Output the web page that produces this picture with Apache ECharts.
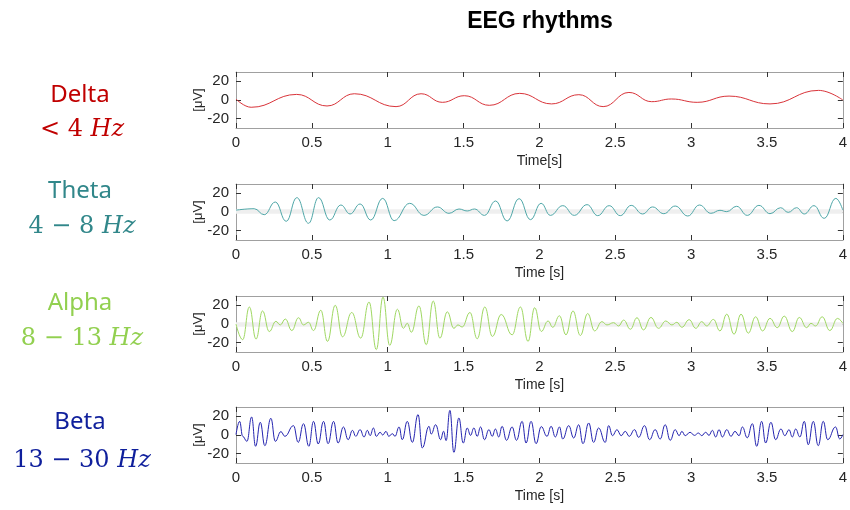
<!DOCTYPE html>
<html>
<head>
<meta charset="utf-8">
<script src="https://cdn.jsdelivr.net/npm/echarts@6/dist/echarts.min.js"></script>
<style>html,body{margin:0;padding:0;background:#fff}#c{width:850px;height:510px}</style>
</head>
<body>
<div id="c"></div>
<script>
// ---------- data (extrema: time [s], amplitude [uV]) ----------
const deltaT = [0, 0.10, 0.40, 0.60, 0.78, 1.055, 1.22, 1.36, 1.505, 1.67, 1.87, 2.08, 2.26, 2.42, 2.59, 2.74, 2.87, 3.04, 3.25, 3.52, 3.84, 4.0];
const deltaV = [1, -7.8, 6.0, -6.4, 6.7, -7.1, 6.7, -2.5, 4.6, -5.7, 7.1, -4.2, 5.7, -7.1, 8.1, -1.8, 1.1, -2.5, 4.2, -4.2, 10.3, 0];

const thetaT = [0, 0.12, 0.186, 0.259, 0.331, 0.401, 0.478, 0.544, 0.618, 0.691, 0.752, 0.818, 0.888, 0.967, 1.042, 1.145, 1.239, 1.327, 1.404, 1.47, 1.524, 1.572, 1.638, 1.711, 1.787, 1.866, 1.941, 2.011, 2.072, 2.154, 2.23, 2.314, 2.384, 2.46, 2.533, 2.605, 2.68, 2.746, 2.82, 2.895, 2.978, 3.055, 3.13, 3.19, 3.235, 3.3, 3.37, 3.447, 3.52, 3.59, 3.64, 3.695, 3.746, 3.81, 3.877, 3.954, 4.0];
const thetaV = [2, 3.5, -2.9, 10.7, -10, 15.4, -12.1, 15.4, -8.6, 7.5, -2.1, 8.6, -8.6, 14.6, -9.3, 9.3, -3.6, 5.4, -1.4, 3.2, 1.1, 3.2, -3.6, 11.8, -9.6, 14.3, -8.2, 9.3, -3.6, 6.8, -3.6, 7.9, -3.9, 6.8, -3.9, 7.1, -2.1, 5.4, -1.8, 6.4, -4.3, 7.5, -1.4, 1.8, 0.4, 6.1, -3.6, 7.1, -1.8, 4.6, -0.4, 4.6, -2.1, 6.8, -6.8, 14.6, 2];

const alphaT = [0, 0.044, 0.088, 0.132, 0.175, 0.219, 0.263, 0.292, 0.325, 0.368, 0.412, 0.445, 0.478, 0.511, 0.559, 0.603, 0.654, 0.702, 0.763, 0.822, 0.877, 0.925, 0.969, 1.013, 1.064, 1.103, 1.129, 1.156, 1.206, 1.254, 1.3, 1.344, 1.393, 1.436, 1.463, 1.491, 1.542, 1.59, 1.64, 1.69, 1.748, 1.82, 1.875, 1.925, 1.969, 2.012, 2.057, 2.088, 2.132, 2.175, 2.221, 2.27, 2.318, 2.364, 2.412, 2.445, 2.489, 2.522, 2.555, 2.6, 2.643, 2.686, 2.735, 2.785, 2.833, 2.873, 2.906, 2.939, 2.987, 3.031, 3.07, 3.103, 3.147, 3.19, 3.235, 3.283, 3.329, 3.377, 3.425, 3.471, 3.52, 3.568, 3.614, 3.667, 3.713, 3.761, 3.79, 3.82, 3.864, 3.914, 3.965, 4.0];
const alphaV = [0, -16.8, 18.2, -16.1, 14, -8.1, 2.8, -1, 5.3, -7, 6.7, -1, 1.8, -7, 14.7, -18.6, 20, -13.7, 12.3, -15.1, 23.5, -27.4, 28.8, -22.8, 15.8, -4.6, 0.7, -8.8, 19.3, -22.1, 24.6, -15.1, 13, -4.6, -1, -3.2, 12.3, -15.8, 18.2, -13.3, 10.2, -11.6, 18.2, -18.6, 17.5, -8, 3.2, -3.5, 8.8, -11.6, 14, -12.3, 11.2, -7.4, 2.5, -1, 1.4, -2.1, 4.2, -5.6, 6.7, -6.3, 7, -4.6, 3.2, -1, 1.8, -3.5, 4.6, -4.6, 2.5, -2.1, 4.9, -7.4, 10.5, -10.9, 10.5, -9.8, 7.7, -7.4, 6, -3.9, 8.4, -8.1, 7, -3.9, 0.7, -2.1, 7.7, -7, 6, 0.7];

const betaT = [0, 0.024, 0.044, 0.072, 0.103, 0.129, 0.16, 0.19, 0.23, 0.259, 0.296, 0.322, 0.379, 0.41, 0.445, 0.48, 0.511, 0.542, 0.577, 0.607, 0.643, 0.673, 0.708, 0.739, 0.768, 0.789, 0.818, 0.844, 0.866, 0.884, 0.906, 0.925, 0.95, 0.967, 0.989, 1.007, 1.031, 1.048, 1.075, 1.096, 1.129, 1.162, 1.2, 1.228, 1.272, 1.287, 1.316, 1.349, 1.368, 1.385, 1.41, 1.436, 1.469, 1.498, 1.524, 1.546, 1.568, 1.59, 1.612, 1.638, 1.667, 1.689, 1.71, 1.732, 1.754, 1.783, 1.82, 1.849, 1.886, 1.912, 1.945, 1.978, 2.012, 2.05, 2.077, 2.105, 2.132, 2.154, 2.193, 2.226, 2.259, 2.287, 2.325, 2.357, 2.39, 2.434, 2.456, 2.482, 2.511, 2.539, 2.566, 2.592, 2.627, 2.654, 2.693, 2.726, 2.763, 2.796, 2.829, 2.862, 2.895, 2.921, 2.939, 2.961, 2.993, 3.022, 3.048, 3.07, 3.096, 3.118, 3.14, 3.162, 3.184, 3.206, 3.235, 3.263, 3.289, 3.316, 3.338, 3.37, 3.404, 3.432, 3.465, 3.491, 3.526, 3.557, 3.592, 3.618, 3.645, 3.667, 3.689, 3.717, 3.746, 3.772, 3.805, 3.838, 3.871, 3.9, 3.952, 3.98, 4.0];
const betaV = [0.4, 14.6, -1.4, -6.8, 19.3, -12.1, 13.6, -11.4, 17.9, -6.8, 3.6, -1.4, 10, -7.9, 12.1, -12.1, 14.6, -9.6, 14.6, -9.3, 14.6, -8.6, 8.6, -5, 5, -1.4, 5.7, -2.1, 5, -0.7, 7.5, -1.4, 2.9, 0, 3.9, -1.4, 1.4, -1.4, 8.6, -5, 14.6, -7.9, 21.8, -13.9, 9.3, 1, 11, -5, 4, -6, 26.4, -18.6, 18.2, -8.6, 7.5, -0.4, 7.5, -1.4, 8.6, -5, 5.7, -1.4, 6.4, -2.1, 9.3, -5.7, 8.6, -5.7, 14.6, -8.6, 14.6, -9.3, 9, -1.4, 9.3, -2.1, 8.6, -4.3, 10, -3.2, 11, -9.3, 12.9, -7.9, 7.5, -7.9, 10, -0.7, 5.7, -0.7, 3.9, -1.4, 5.7, -2.5, 10, -5, 5.7, -4.3, 11, -5.7, 5.7, -0.7, 3.9, -0.7, 2.9, -0.4, 2.1, -0.7, 2.9, -0.4, 5, -2.1, 5.7, -2.1, 5.7, -1.4, 3.9, -0.7, 8.6, -3, 12.1, -12.1, 14.6, -8.6, 13.6, -5, 6.4, -0.7, 5.7, -2.1, 6.4, -2.1, 14.6, -10.4, 14.6, -11.4, 14.6, -5, 8.6, -4.3, 0.4];

// faint grey band around zero seen behind the theta and alpha traces
const thetaBand = [-2, 3];
const alphaBand = [-3, 2];

const xTickInterval = 0.5;
const yTickValues = [-20, 0, 20];
const bandNames = ['Delta', 'Theta', 'Alpha', 'Beta'];
const bandRanges = [['< 4 ', 'Hz'], ['4 − 8 ', 'Hz'], ['8 − 13 ', 'Hz'], ['13 − 30 ', 'Hz']];
const xAxisNames = ['Time[s]', 'Time [s]', 'Time [s]', 'Time [s]'];
const yAxisName = '[μV]';
const titleText = 'EEG rhythms';
// ------------------------------------------------------------------------------

const seriesT = [deltaT, thetaT, alphaT, betaT];
const seriesV = [deltaV, thetaV, alphaV, betaV];
const bands = [null, thetaBand, alphaBand, null];
const lineColors = ['#d9343a', '#4fa7a8', '#9fd862', '#2424b0'];
const textColors = ['#c00000', '#31878a', '#92d050', '#0f1f9c'];
const tops = [72, 184, 296, 407];
const nameY = [95, 191, 303, 422];
const rangeY = [130, 227, 339, 461];
const gridH = 56, gridL = 236, gridW = 609;
const axisGray = '#a0a0a0', tickDark = '#333', labelDark = '#262626';
const sans = '"Liberation Sans", Arial, sans-serif';

const grid = [], xAxis = [], yAxis = [], series = [], graphic = [];
for (let i = 0; i < 4; i++) {
  grid.push({left: gridL, top: tops[i], width: gridW, height: gridH, containLabel: false});
  const axLine = {show: true, onZero: false, lineStyle: {color: axisGray, width: 1}};
  xAxis.push({
    type: 'value', gridIndex: i, min: 0, max: 4, interval: xTickInterval, position: 'bottom',
    axisLine: axLine,
    axisTick: {show: true, inside: true, length: 5, lineStyle: {color: tickDark}},
    axisLabel: {color: labelDark, fontSize: 15, margin: 7, fontFamily: sans, showMinLabel: true, showMaxLabel: true},
    splitLine: {show: false},
    name: xAxisNames[i], nameLocation: 'middle', nameGap: 26, nameMoveOverlap: false,
    nameTextStyle: {color: labelDark, fontSize: 14, fontFamily: sans}
  });
  xAxis.push({
    type: 'value', gridIndex: i, min: 0, max: 4, interval: xTickInterval, position: 'top',
    axisLine: axLine,
    axisTick: {show: true, inside: true, length: 5, lineStyle: {color: tickDark}},
    axisLabel: {show: false}, splitLine: {show: false}
  });
  yAxis.push({
    type: 'value', gridIndex: i, min: -30, max: 30, position: 'left',
    axisLine: axLine,
    axisTick: {show: true, inside: true, length: 5, customValues: yTickValues, lineStyle: {color: tickDark}},
    axisLabel: {color: labelDark, fontSize: 15, margin: 7, fontFamily: sans, customValues: yTickValues},
    splitLine: {show: false},
    name: yAxisName, nameLocation: 'middle', nameRotate: 90, nameGap: 31, nameMoveOverlap: false,
    nameTextStyle: {color: labelDark, fontSize: 13, fontFamily: sans}
  });
  yAxis.push({
    type: 'value', gridIndex: i, min: -30, max: 30, position: 'right',
    axisLine: axLine,
    axisTick: {show: true, inside: true, length: 5, customValues: yTickValues, lineStyle: {color: tickDark}},
    axisLabel: {show: false}, splitLine: {show: false}
  });
  const s = {
    type: 'line', xAxisIndex: 2 * i, yAxisIndex: 2 * i,
    data: seriesT[i].map((t, k) => [t, seriesV[i][k]]),
    showSymbol: false, smooth: 0.45, smoothMonotone: 'x',
    lineStyle: {color: lineColors[i], width: 1}, silent: true, animation: false
  };
  if (bands[i]) {
    s.markArea = {silent: true, itemStyle: {color: '#efefef'},
      data: [[{xAxis: 0, yAxis: bands[i][0]}, {xAxis: 4, yAxis: bands[i][1]}]]};
  }
  series.push(s);

  graphic.push({type: 'text', x: 80, y: nameY[i], style: {
    text: bandNames[i], fill: textColors[i], font: '24px "Noto Sans", sans-serif', align: 'center', verticalAlign: 'middle'}});
  graphic.push({type: 'text', x: 82, y: rangeY[i], style: {
    text: '{n|' + bandRanges[i][0] + '}{h|' + bandRanges[i][1] + '}',
    align: 'center', verticalAlign: 'middle',
    rich: {
      n: {fill: textColors[i], fontSize: 24, fontFamily: '"DejaVu Serif", serif'},
      h: {fill: textColors[i], fontSize: 24, fontFamily: '"DejaVu Serif", serif', fontStyle: 'italic'}
    }}});
}
graphic.push({type: 'text', x: 540, y: 22, style: {
  text: titleText, fill: '#000', font: 'bold 23px "Liberation Sans", Arial, sans-serif', align: 'center', verticalAlign: 'middle'}});

const chart = echarts.init(document.getElementById('c'), null, {renderer: 'canvas'});
chart.setOption({animation: false, backgroundColor: '#fff', grid, xAxis, yAxis, series, graphic});
</script>
</body>
</html>
